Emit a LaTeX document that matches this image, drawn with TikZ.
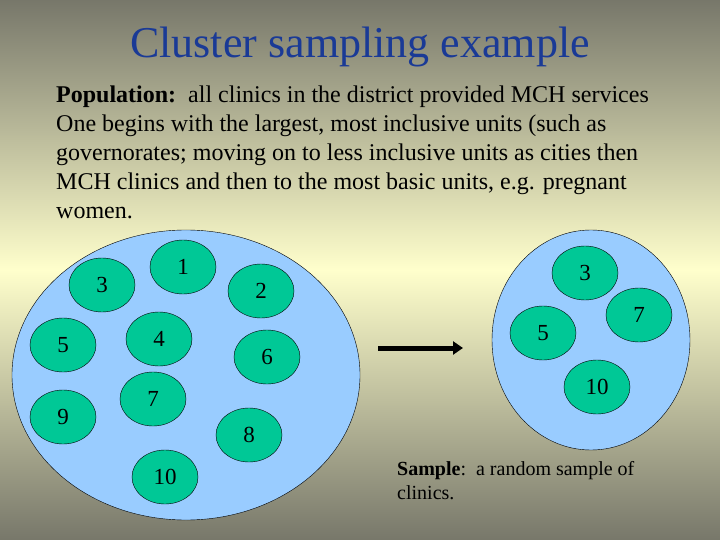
\documentclass[tikz,border=0pt]{standalone}
\usepackage{fontspec}
\setmainfont{Liberation Serif}
\usetikzlibrary{shapes.geometric, arrows.meta, positioning}
\definecolor{bgdark}{HTML}{77776A}
\definecolor{bglight}{HTML}{FFFFCC}
\definecolor{popblue}{HTML}{99CCFF}
\definecolor{clinic}{HTML}{00C896}
\definecolor{titleblue}{HTML}{1A3A96}
\begin{document}
\begin{tikzpicture}[x=1pt, y=-1pt,
    pop/.style={draw, fill=popblue, ellipse, inner sep=0pt},
    clinic/.style={draw, fill=clinic, ellipse, minimum width=66pt, minimum height=54pt, inner sep=0pt, font=\fontsize{23}{23}\selectfont},
    arrow/.style={-{Triangle[length=10pt, width=13pt]}, line width=5pt}
  ]
    % Background
    \shade[top color=bgdark, bottom color=bglight] (0,0) rectangle (720,270);
    \shade[top color=bglight, bottom color=bgdark] (0,270) rectangle (720,540);
    \useasboundingbox (0,0) rectangle (720,540);

    % Title and text
    \node[titleblue, font=\fontsize{44}{44}\selectfont] (title) at (360,47) {Cluster sampling example};
    \node[anchor=north west, align=left, inner sep=0pt, font=\fontsize{24}{29}\selectfont] (intro) at (56,86)
      {\textbf{Population:}\ \ all clinics in the district provided MCH services\\
       One begins with the largest, most inclusive units (such as\\
       governorates; moving on to less inclusive units as cities then\\
       MCH clinics and then to the most basic units, e.g. pregnant\\
       women.};

    % Population
    \node[pop, minimum width=348pt, minimum height=290pt] (popn) at (186,375) {};
    \node[clinic] (c1) at (183,267) {1};
    \node[clinic] (c3) at (102,285) {3};
    \node[clinic] (c2) at (261,291) {2};
    \node[clinic] (c5) at (63,345) {5};
    \node[clinic] (c4) at (159,339) {4};
    \node[clinic] (c6) at (267,357) {6};
    \node[clinic] (c7) at (153,399) {7};
    \node[clinic] (c9) at (63,417) {9};
    \node[clinic] (c8) at (249,435) {8};
    \node[clinic] (c10) at (165,477) {10};

    % Sample
    \node[pop, minimum width=198pt, minimum height=220pt] (samp) at (591,340) {};
    \node[clinic] (s3) at (585,273) {3};
    \node[clinic] (s7) at (639,315) {7};
    \node[clinic] (s5) at (543,333) {5};
    \node[clinic] (s10) at (597,387) {10};

    \coordinate (a1) at (378,348);
    \coordinate (a2) at (463,348);
    \draw[arrow] (a1) -- (a2);

    \node[anchor=north west, align=left, inner sep=0pt, font=\fontsize{20}{24}\selectfont] (note) at (397,461)
      {\textbf{Sample}:\ \ a random sample of\\clinics.};
  \end{tikzpicture}
\end{document}
